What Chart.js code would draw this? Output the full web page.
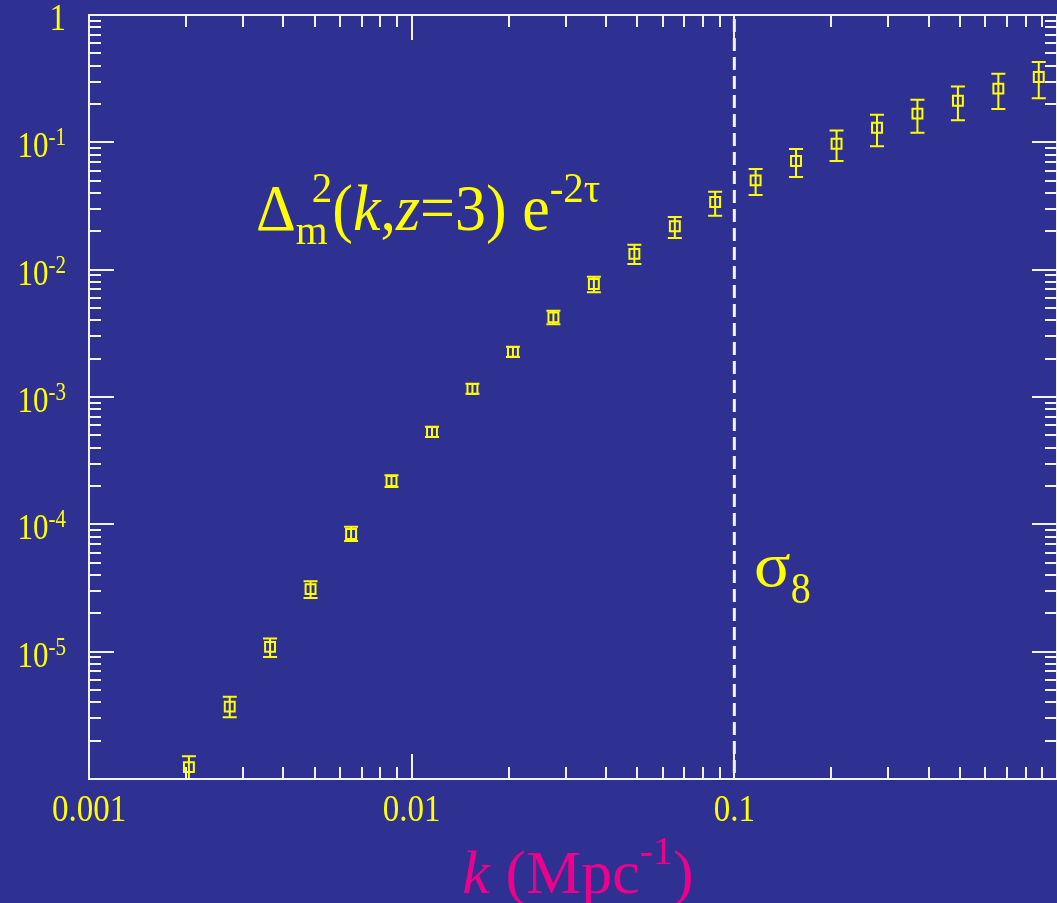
<!DOCTYPE html>
<html>
<head>
<meta charset="utf-8">
<script src="https://cdn.jsdelivr.net/npm/chart.js@4.4.1/dist/chart.umd.min.js"></script>
<style>
  html, body { margin: 0; padding: 0; background: #2e3192; overflow: hidden; }
  #wrap { width: 1057px; height: 903px; }
</style>
</head>
<body>
<div id="wrap"><canvas id="chart"></canvas></div>
<script>
// wavenumber k (Mpc^-1) and the power Delta^2(k, z=3) e^-2tau with its error range
const kValues = [0.00204, 0.00273, 0.00364, 0.00486, 0.00649, 0.00866, 0.01156, 0.01543, 0.0206, 0.0275, 0.0367,
                 0.0490, 0.0654, 0.0872, 0.1164, 0.1553, 0.2074, 0.2768, 0.3694, 0.4931, 0.658, 0.878];
const power   = [1.24e-6, 3.70e-6, 1.09e-5, 3.10e-5, 8.4e-5, 2.19e-4, 5.31e-4, 1.156e-3, 2.26e-3, 4.22e-3, 7.71e-3,
                 1.33e-2, 2.19e-2, 3.40e-2, 5.03e-2, 7.13e-2, 9.75e-2, 0.130, 0.168, 0.212, 0.264, 0.326];
const errHigh = [1.51e-6, 4.43e-6, 1.27e-5, 3.57e-5, 9.58e-5, 2.43e-4, 5.85e-4, 1.27e-3, 2.48e-3, 4.76e-3, 8.81e-3,
                 1.57e-2, 2.59e-2, 4.09e-2, 6.18e-2, 8.87e-2, 0.124, 0.165, 0.216, 0.275, 0.346, 0.427];
const errLow  = [1.0e-6, 3.05e-6, 9.1e-6, 2.64e-5, 7.40e-5, 1.96e-4, 4.85e-4, 1.06e-3, 2.06e-3, 3.72e-3, 6.64e-3,
                 1.11e-2, 1.77e-2, 2.65e-2, 3.86e-2, 5.34e-2, 7.13e-2, 9.31e-2, 0.119, 0.149, 0.183, 0.222];

const xTicks = [0.001, 0.01, 0.1];
const xTickLabels = ['0.001', '0.01', '0.1'];
const yTicks = [1, 1e-1, 1e-2, 1e-3, 1e-4, 1e-5];
const yTickExps = ['', '-1', '-2', '-3', '-4', '-5'];
const sigma8K = 0.1;

const BG = '#2e3192';
const YELLOW = '#ffff00';
const MAGENTA = '#ec008c';
const WHITE = '#f4f4f8';
const SERIF = '"Liberation Serif", "Times New Roman", serif';

function font(size, italic) {
    return (italic ? 'italic ' : '') + size + 'px ' + SERIF;
}

// text made of runs (sub/superscripts, italics); sy stretches glyphs vertically
function drawRuns(ctx, x, baseline, runs, align, color, sy) {
    let w = 0;
    runs.forEach(r => {
        ctx.font = font(r.size, r.italic);
        w += ctx.measureText(r.text).width - (r.back || 0);
    });
    let cx = align === 'right' ? x - w : align === 'center' ? x - w / 2 : x;
    ctx.fillStyle = color;
    ctx.textAlign = 'left';
    ctx.textBaseline = 'alphabetic';
    runs.forEach(r => {
        ctx.font = font(r.size, r.italic);
        cx -= (r.back || 0);
        ctx.save();
        ctx.translate(cx, baseline + (r.dy || 0));
        ctx.scale(1, r.sy || sy);
        ctx.fillText(r.text, 0, 0);
        ctx.restore();
        cx += ctx.measureText(r.text).width;
    });
}

const framePlugin = {
    id: 'frame',
    beforeDraw(chart) {
        const ctx = chart.ctx;
        ctx.save();
        ctx.fillStyle = BG;
        ctx.fillRect(0, 0, chart.width, chart.height);
        ctx.restore();
    },
    beforeDatasetsDraw(chart) {
        const { ctx, chartArea: ca, scales: { x, y } } = chart;
        ctx.save();
        // sigma_8 scale marker
        const px = x.getPixelForValue(sigma8K);
        ctx.strokeStyle = WHITE;
        ctx.lineWidth = 3;
        ctx.setLineDash([13, 6]);
        ctx.beginPath();
        ctx.moveTo(px, ca.top + 4);
        ctx.lineTo(px, ca.bottom);
        ctx.stroke();
        ctx.setLineDash([]);

        // error bars
        ctx.beginPath();
        ctx.rect(ca.left, ca.top, ca.right - ca.left, ca.bottom - ca.top);
        ctx.clip();
        ctx.strokeStyle = YELLOW;
        ctx.lineWidth = 2;
        kValues.forEach((k, i) => {
            const cx = x.getPixelForValue(k);
            const yHi = y.getPixelForValue(errHigh[i]);
            const yLo = y.getPixelForValue(errLow[i]);
            ctx.beginPath();
            ctx.moveTo(cx, yHi);
            ctx.lineTo(cx, yLo);
            ctx.moveTo(cx - 7, yHi);
            ctx.lineTo(cx + 7, yHi);
            ctx.moveTo(cx - 7, yLo);
            ctx.lineTo(cx + 7, yLo);
            ctx.stroke();
        });
        ctx.restore();
    },
    afterDraw(chart) {
        const { ctx, chartArea: ca, scales: { x, y } } = chart;
        ctx.save();
        ctx.strokeStyle = WHITE;
        ctx.lineWidth = 2;

        // axis box
        ctx.beginPath();
        ctx.moveTo(ca.right, ca.top);
        ctx.lineTo(ca.left, ca.top);
        ctx.lineTo(ca.left, ca.bottom);
        ctx.lineTo(ca.right, ca.bottom);
        ctx.lineTo(ca.right, ca.top);
        ctx.stroke();

        // inward ticks on all four sides, majors at decades
        ctx.beginPath();
        for (let d = -3; d <= 0; d++) {
            for (let m = 1; m <= 9; m++) {
                const v = m * Math.pow(10, d);
                if (v > 1) break;
                const px = Math.round(x.getPixelForValue(v));
                const len = m === 1 ? 25 : 12;
                ctx.moveTo(px, ca.bottom);
                ctx.lineTo(px, ca.bottom - len);
                ctx.moveTo(px, ca.top);
                ctx.lineTo(px, ca.top + len);
            }
        }
        for (let d = -6; d <= 0; d++) {
            for (let m = 1; m <= 9; m++) {
                const v = m * Math.pow(10, d);
                if (v > 1) break;
                const py = Math.round(y.getPixelForValue(v));
                const len = m === 1 ? 25 : 12;
                ctx.moveTo(ca.left, py);
                ctx.lineTo(ca.left + len, py);
                ctx.moveTo(ca.right, py);
                ctx.lineTo(ca.right - len, py);
            }
        }
        ctx.stroke();

        // tick labels
        xTicks.forEach((v, i) => {
            drawRuns(ctx, x.getPixelForValue(v), ca.bottom + 42,
                [{ text: xTickLabels[i], size: 33 }], 'center', YELLOW, 1.15);
        });
        yTicks.forEach((v, i) => {
            const py = y.getPixelForValue(v);
            const runs = yTickExps[i] === ''
                ? [{ text: '1', size: 33 }]
                : [{ text: '10', size: 31 }, { text: yTickExps[i], size: 21, dy: -12 }];
            drawRuns(ctx, 66, py + 15, runs, 'right', YELLOW, 1.15);
        });

        // annotations
        drawRuns(ctx, 256, 230, [
            { text: '\u0394', size: 62 },
            { text: 'm', size: 41, dy: 14 },
            { text: '2', size: 41, dy: -28, back: 16 },
            { text: '(', size: 62 },
            { text: 'k', size: 62, italic: true },
            { text: ',', size: 62 },
            { text: 'z', size: 62, italic: true },
            { text: '=3) e', size: 62 },
            { text: '-2\u03c4', size: 41, dy: -28 }
        ], 'left', YELLOW, 1.05);

        drawRuns(ctx, 754, 586, [
            { text: '\u03c3', size: 68, sy: 0.92 },
            { text: '8', size: 40, dy: 17 }
        ], 'left', YELLOW, 1.1);

        drawRuns(ctx, 578, 893, [
            { text: 'k', size: 62, italic: true },
            { text: ' (Mpc', size: 62 },
            { text: '-1', size: 40, dy: -29 },
            { text: ')', size: 62 }
        ], 'center', MAGENTA, 1.0);
        ctx.restore();
    }
};

new Chart(document.getElementById('chart'), {
    type: 'scatter',
    data: {
        datasets: [{
            label: 'power',
            data: kValues.map((k, i) => ({ x: k, y: power[i] })),
            pointStyle: 'rect',
            pointRadius: 7,
            pointHoverRadius: 7,
            borderWidth: 2,
            borderColor: YELLOW,
            backgroundColor: 'rgba(0,0,0,0)'
        }]
    },
    options: {
        responsive: true,
        maintainAspectRatio: false,
        animation: false,
        events: [],
        layout: { autoPadding: false, padding: { left: 89, top: 15, right: 0, bottom: 124 } },
        plugins: { legend: { display: false }, tooltip: { enabled: false } },
        scales: {
            x: { type: 'logarithmic', min: 0.001, max: 1, display: false },
            y: { type: 'logarithmic', min: 1e-6, max: 1, display: false }
        }
    },
    plugins: [framePlugin]
});
</script>
</body>
</html>
